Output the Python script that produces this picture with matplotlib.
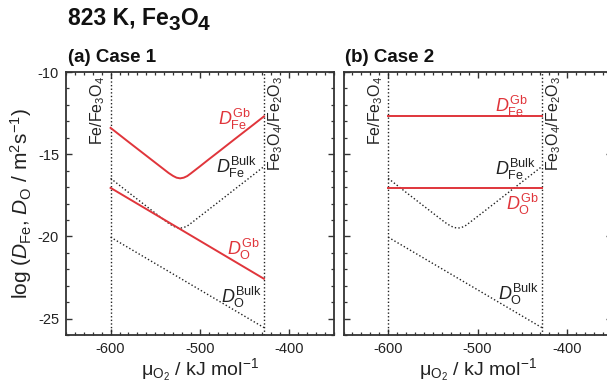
import matplotlib
matplotlib.use("Agg")
import matplotlib.pyplot as plt
from matplotlib.ticker import MultipleLocator

plt.rcParams["font.family"] = ["Liberation Sans", "DejaVu Sans"]
plt.rcParams["mathtext.fontset"] = "custom"
plt.rcParams["mathtext.rm"] = "Liberation Sans"
plt.rcParams["mathtext.it"] = "Liberation Sans:italic"
plt.rcParams["mathtext.bf"] = "Liberation Sans:bold"
plt.rcParams["axes.unicode_minus"] = False

# Phase boundaries (oxygen chemical potential, kJ/mol)
mu_fe_fe3o4 = -600
mu_fe3o4_fe2o3 = -428

# Fe diffusivities along the stability range of Fe3O4 (log10 m^2/s)
mu_fe = [-600, -580, -560, -550, -540, -535, -530, -526, -522, -518,
         -514, -510, -505, -500, -490, -480, -460, -440, -428]
log_dfe_gb_case1 = [-13.40, -14.25, -15.09, -15.51, -15.93, -16.14, -16.32,
                    -16.43, -16.47, -16.43, -16.33, -16.17, -15.96, -15.75,
                    -15.32, -14.90, -14.05, -13.21, -12.70]
log_dfe_bulk = [-16.47, -17.32, -18.16, -18.58, -19.00, -19.20, -19.37,
                -19.46, -19.50, -19.46, -19.37, -19.21, -19.00, -18.79,
                -18.37, -17.95, -17.10, -16.26, -15.75]

# O diffusivities (straight lines between the two phase boundaries)
mu_o = [-600, -428]
log_do_gb_case1 = [-17.05, -22.58]
log_do_bulk = [-20.05, -25.55]

# Case 2: grain-boundary diffusivities independent of mu_O2
log_dfe_gb_case2 = [-12.70, -12.70]
log_do_gb_case2 = [-17.05, -17.05]

RED = "#e0353b"
INK = "#222222"
SPINE = "#333333"
dots = (0, (1.0, 1.6))

W, H = 607, 383
fig = plt.figure(figsize=(W / 100, H / 100), dpi=100)
bottom = 1 - 335 / H
height = 263 / H
ax1 = fig.add_axes([66 / W, bottom, 267.5 / W, height])
ax2 = fig.add_axes([343.5 / W, bottom, 268 / W, height])


def style(ax, ylabels):
    ax.set_xlim(-650, -350)
    ax.set_ylim(-26, -10)
    ax.xaxis.set_major_locator(MultipleLocator(100))
    ax.xaxis.set_minor_locator(MultipleLocator(10))
    ax.yaxis.set_major_locator(MultipleLocator(5))
    ax.yaxis.set_minor_locator(MultipleLocator(1))
    ax.tick_params(which="both", direction="in", top=True, right=True,
                   colors=SPINE, labelcolor=INK, labelsize=10.5, pad=5)
    ax.tick_params(which="major", length=4, width=1.0)
    ax.tick_params(which="minor", length=2.2, width=0.9)
    if not ylabels:
        ax.tick_params(labelleft=False)
    for s in ax.spines.values():
        s.set_linewidth(1.3)
        s.set_color(SPINE)
    ax.set_xlabel(r"$\mathrm{\mu_{O_2}}$ / kJ mol$^{-1}$", fontsize=14,
                  color=INK, labelpad=0)
    for mu in (mu_fe_fe3o4, mu_fe3o4_fe2o3):
        ax.axvline(mu, color=INK, lw=1.0, ls=dots)
    ax.text(mu_fe_fe3o4 - 3.5, -10.22, r"Fe/Fe$_3$O$_4$", rotation=90,
            ha="right", va="top", fontsize=11.5, color=INK)
    ax.text(mu_fe3o4_fe2o3 + 3.0, -10.22, r"Fe$_3$O$_4$/Fe$_2$O$_3$",
            rotation=90, ha="left", va="top", fontsize=11.5, color=INK)


style(ax1, True)
style(ax2, False)

ax1.set_ylabel(r"log ($D_{\rm Fe}$, $D_{\rm O}$ / m$^2$s$^{-1}$)",
               fontsize=15, color=INK, labelpad=3)

# (a) Case 1
ax1.plot(mu_fe, log_dfe_gb_case1, color=RED, lw=1.4)
ax1.plot(mu_fe, log_dfe_bulk, color=INK, lw=1.0, ls=dots)
ax1.plot(mu_o, log_do_gb_case1, color=RED, lw=1.4)
ax1.plot(mu_o, log_do_bulk, color=INK, lw=1.0, ls=dots)

lab = dict(fontsize=13, ha="right", va="baseline")
ax1.text(-443.6, -13.22, r"$D_{\rm Fe}^{\rm Gb}$", color=RED, **lab)
ax1.text(-435.7, -16.16, r"$D_{\rm Fe}^{\rm Bulk}$", color=INK, **lab)
ax1.text(-432.4, -21.13, r"$D_{\rm O}^{\rm Gb}$", color=RED, **lab)
ax1.text(-430.0, -24.07, r"$D_{\rm O}^{\rm Bulk}$", color=INK, **lab)

# (b) Case 2
ax2.plot(mu_o, log_dfe_gb_case2, color=RED, lw=1.4)
ax2.plot(mu_fe, log_dfe_bulk, color=INK, lw=1.0, ls=dots)
ax2.plot(mu_o, log_do_gb_case2, color=RED, lw=1.4)
ax2.plot(mu_o, log_do_bulk, color=INK, lw=1.0, ls=dots)

ax2.text(-443.8, -12.41, r"$D_{\rm Fe}^{\rm Gb}$", color=RED, **lab)
ax2.text(-434.8, -16.27, r"$D_{\rm Fe}^{\rm Bulk}$", color=INK, **lab)
ax2.text(-431.5, -18.39, r"$D_{\rm O}^{\rm Gb}$", color=RED, **lab)
ax2.text(-431.5, -23.87, r"$D_{\rm O}^{\rm Bulk}$", color=INK, **lab)

# Figure heading with large lowered subscripts, laid out piece by piece
renderer = fig.canvas.get_renderer()
x = 68 / W
base = 1 - 25 / H
for piece, drop, size in [("823 K, Fe", 0, 16.5), ("3", 5, 15),
                          ("O", 0, 16.5), ("4", 5, 15)]:
    t = fig.text(x, base - drop / H, piece, fontsize=size, fontweight="bold",
                 ha="left", va="baseline", color="#111111")
    x = t.get_window_extent(renderer).x1 / W

fig.text(68 / W, 1 - 62 / H, "(a) Case 1", fontsize=13.5,
         fontweight="bold", ha="left", va="baseline", color="#111111")
fig.text(345 / W, 1 - 62 / H, "(b) Case 2", fontsize=13.5,
         fontweight="bold", ha="left", va="baseline", color="#111111")

fig.savefig("out.png", dpi=100)
